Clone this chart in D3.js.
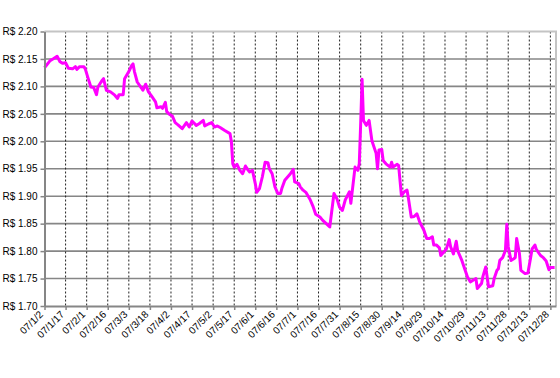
<!DOCTYPE html>
<html>
<head>
<meta charset="utf-8">
<script src="https://cdn.jsdelivr.net/npm/d3@7"></script>
<style>
  body { margin: 0; background: #fff; }
  svg { display: block; font-family: Arial, "Liberation Sans", sans-serif; }
</style>
</head>
<body>
<svg id="rateChart" width="560" height="378"></svg>
<script>
// fechas e cotações
const dates = [
  '2007-01-02','2007-01-06','2007-01-08','2007-01-11','2007-01-13','2007-01-15','2007-01-17','2007-01-19',
  '2007-01-22','2007-01-24','2007-01-25','2007-01-27','2007-01-30','2007-01-31','2007-02-02','2007-02-04',
  '2007-02-06','2007-02-08','2007-02-09','2007-02-12','2007-02-13','2007-02-15','2007-02-18','2007-02-21',
  '2007-02-23','2007-02-24','2007-02-27','2007-02-28','2007-03-03','2007-03-05','2007-03-06','2007-03-07',
  '2007-03-09','2007-03-12','2007-03-13','2007-03-15','2007-03-17','2007-03-19','2007-03-22','2007-03-23',
  '2007-03-26','2007-03-27','2007-03-29','2007-03-30','2007-04-01','2007-04-03','2007-04-05','2007-04-07',
  '2007-04-10','2007-04-13','2007-04-15','2007-04-17','2007-04-20','2007-04-22','2007-04-25','2007-04-26',
  '2007-04-29','2007-05-01','2007-05-03','2007-05-05','2007-05-07','2007-05-10','2007-05-14','2007-05-15',
  '2007-05-16','2007-05-17','2007-05-19','2007-05-21','2007-05-23','2007-05-25','2007-05-27','2007-05-28',
  '2007-05-30','2007-06-01','2007-06-02','2007-06-04','2007-06-06','2007-06-08','2007-06-10','2007-06-11',
  '2007-06-13','2007-06-15','2007-06-17','2007-06-19','2007-06-20','2007-06-22','2007-06-24','2007-06-26',
  '2007-06-28','2007-06-29','2007-07-02','2007-07-03','2007-07-05','2007-07-07','2007-07-10','2007-07-12',
  '2007-07-14','2007-07-17','2007-07-19','2007-07-24','2007-07-27','2007-07-29','2007-07-31','2007-08-02',
  '2007-08-04','2007-08-07','2007-08-08','2007-08-11','2007-08-13','2007-08-14','2007-08-15','2007-08-16',
  '2007-08-17','2007-08-19','2007-08-21','2007-08-23','2007-08-26','2007-08-27','2007-08-28','2007-08-30',
  '2007-08-31','2007-09-02','2007-09-05','2007-09-06','2007-09-07','2007-09-10','2007-09-11','2007-09-13',
  '2007-09-15','2007-09-17','2007-09-18','2007-09-20','2007-09-22','2007-09-24','2007-09-26','2007-09-29',
  '2007-10-01','2007-10-03','2007-10-05','2007-10-06','2007-10-08','2007-10-10','2007-10-11','2007-10-13',
  '2007-10-15','2007-10-17','2007-10-18','2007-10-20','2007-10-22','2007-10-23','2007-10-26','2007-10-28',
  '2007-10-30','2007-11-01','2007-11-03','2007-11-05','2007-11-06','2007-11-09','2007-11-10','2007-11-12',
  '2007-11-14','2007-11-17','2007-11-18','2007-11-20','2007-11-21','2007-11-22','2007-11-24','2007-11-26',
  '2007-11-27','2007-11-28','2007-11-30','2007-12-02','2007-12-03','2007-12-04','2007-12-06','2007-12-07',
  '2007-12-10','2007-12-12','2007-12-14','2007-12-15','2007-12-17','2007-12-18','2007-12-21','2007-12-23',
  '2007-12-25','2007-12-27','2007-12-28','2007-12-31'
];

const rates = [
  2.134, 2.147, 2.150, 2.155, 2.145, 2.142, 2.143, 2.133,
  2.132, 2.136, 2.131, 2.136, 2.136, 2.132, 2.115, 2.099,
  2.098, 2.085, 2.099, 2.111, 2.114, 2.093, 2.090, 2.084,
  2.078, 2.085, 2.085, 2.114, 2.127, 2.138, 2.141, 2.127,
  2.108, 2.097, 2.093, 2.104, 2.090, 2.083, 2.072, 2.061,
  2.063, 2.060, 2.071, 2.054, 2.049, 2.046, 2.034, 2.030,
  2.023, 2.034, 2.026, 2.037, 2.029, 2.032, 2.038, 2.028,
  2.032, 2.034, 2.026, 2.028, 2.025, 2.020, 2.014, 1.999,
  1.959, 1.953, 1.958, 1.947, 1.941, 1.955, 1.947, 1.944,
  1.947, 1.923, 1.907, 1.914, 1.935, 1.962, 1.961, 1.950,
  1.941, 1.917, 1.905, 1.905, 1.915, 1.929, 1.935, 1.941,
  1.949, 1.926, 1.923, 1.917, 1.911, 1.907, 1.894, 1.882,
  1.867, 1.862, 1.856, 1.844, 1.905, 1.896, 1.880, 1.874,
  1.893, 1.908, 1.887, 1.953, 1.947, 1.959, 2.032, 2.113,
  2.038, 2.029, 2.038, 2.001, 1.978, 1.950, 1.984, 1.985,
  1.965, 1.959, 1.953, 1.962, 1.953, 1.958, 1.956, 1.901,
  1.908, 1.911, 1.896, 1.862, 1.863, 1.868, 1.853, 1.838,
  1.823, 1.823, 1.826, 1.811, 1.811, 1.806, 1.792, 1.798,
  1.804, 1.821, 1.808, 1.795, 1.818, 1.801, 1.783, 1.768,
  1.753, 1.744, 1.747, 1.750, 1.732, 1.741, 1.754, 1.771,
  1.735, 1.737, 1.750, 1.765, 1.768, 1.783, 1.788, 1.801,
  1.849, 1.808, 1.783, 1.786, 1.788, 1.823, 1.795, 1.765,
  1.759, 1.760, 1.789, 1.804, 1.811, 1.803, 1.792, 1.788,
  1.782, 1.766, 1.770, 1.770
];

const xTickLabels = [
  '07/1/2','07/1/17','07/2/1','07/2/16','07/3/3','07/3/18','07/4/2','07/4/17','07/5/2',
  '07/5/17','07/6/1','07/6/16','07/7/1','07/7/16','07/7/31','07/8/15','07/8/30','07/9/14',
  '07/9/29','07/10/14','07/10/29','07/11/13','07/11/28','07/12/13','07/12/28'
];

const yTicks = [1.70, 1.75, 1.80, 1.85, 1.90, 1.95, 2.00, 2.05, 2.10, 2.15, 2.20];

function renderRateChart() {
  const margin = { top: 31.5, right: 4, bottom: 72, left: 44.5 };
  const width = 560 - margin.left - margin.right;
  const height = 378 - margin.top - margin.bottom;

  const parseDate = d3.utcParse('%Y-%m-%d');
  const parseTick = d3.utcParse('%y/%m/%d');

  const data = dates.map((d, i) => ({ date: parseDate(d), value: rates[i] }));
  const tickDates = xTickLabels.map(t => parseTick(t));

  const svg = d3.select('#rateChart');
  const g = svg.append('g')
    .attr('transform', `translate(${margin.left},${margin.top})`);

  const xScale = d3.scaleUtc()
    .domain([parseDate('2007-01-02'), parseDate('2008-01-01')])
    .range([0, width]);

  const yScale = d3.scaleLinear()
    .domain([1.70, 2.20])
    .range([height, 0]);

  // grade horizontal
  g.append('g')
    .selectAll('line')
    .data(yTicks.slice(1, -1))
    .enter()
    .append('line')
    .attr('x1', 0)
    .attr('x2', width)
    .attr('y1', d => yScale(d))
    .attr('y2', d => yScale(d))
    .attr('stroke', '#868686')
    .attr('stroke-width', 1.6);

  // grade vertical pontilhada
  g.append('g')
    .selectAll('line')
    .data(tickDates.slice(1))
    .enter()
    .append('line')
    .attr('x1', d => xScale(d))
    .attr('x2', d => xScale(d))
    .attr('y1', 0)
    .attr('y2', height)
    .attr('stroke', '#222')
    .attr('stroke-width', 1)
    .attr('stroke-dasharray', '2,2');

  // borda superior e direita
  g.append('path')
    .attr('d', `M0,0H${width}V${height}`)
    .attr('fill', 'none')
    .attr('stroke', '#c4c4c4')
    .attr('stroke-width', 2);

  // linha
  const line = d3.line()
    .x(d => xScale(d.date))
    .y(d => yScale(d.value));

  g.append('path')
    .datum(data)
    .attr('fill', 'none')
    .attr('stroke', '#ff00ff')
    .attr('stroke-width', 3)
    .attr('stroke-linejoin', 'round')
    .attr('d', line);

  // Eixo Y
  const yAxis = g.append('g')
    .call(d3.axisLeft(yScale)
      .tickValues(yTicks)
      .tickSize(4)
      .tickSizeOuter(0)
      .tickPadding(3)
      .tickFormat(d => 'R$ ' + d3.format('.2f')(d)));

  // Eixo X
  const xAxis = g.append('g')
    .attr('transform', `translate(0,${height})`)
    .call(d3.axisBottom(xScale)
      .tickValues(tickDates)
      .tickSize(4)
      .tickSizeOuter(0)
      .tickFormat((d, i) => xTickLabels[i]));

  [yAxis, xAxis].forEach(ax => {
    ax.select('.domain')
      .attr('stroke', '#868686')
      .attr('stroke-width', 2);
    ax.selectAll('.tick line')
      .attr('stroke', '#868686')
      .attr('stroke-width', 1.5);
    ax.selectAll('text')
      .style('font-size', '10px')
      .style('fill', '#000');
  });

  xAxis.selectAll('text')
    .attr('text-anchor', 'end')
    .attr('dy', '0.35em')
    .attr('transform', 'translate(-3,6) rotate(-45)')
    .attr('x', -1)
    .attr('y', 0);
}

renderRateChart();
</script>
</body>
</html>
